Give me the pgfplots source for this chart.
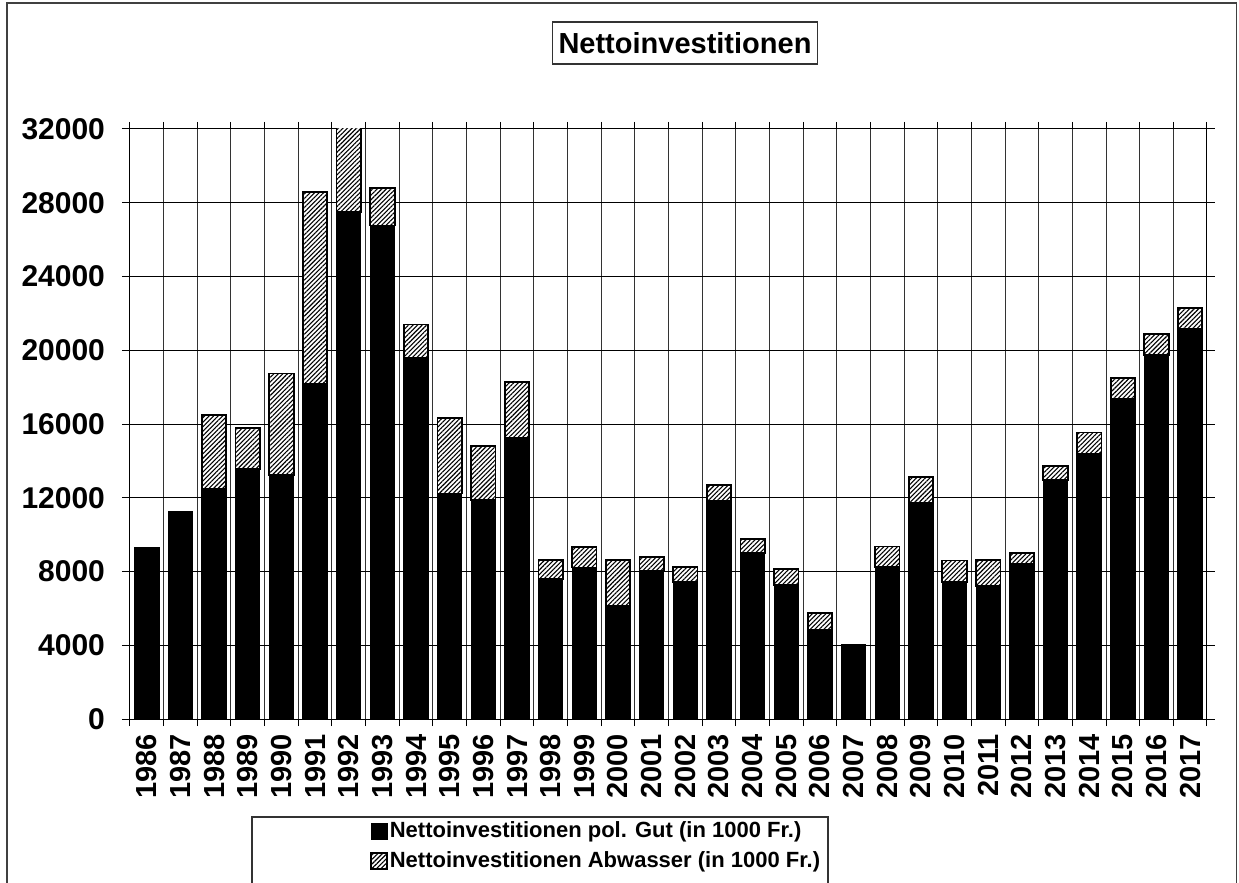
\documentclass[border=0pt]{standalone}
\usepackage{fontspec}
\setmainfont{Liberation Sans}
\setsansfont{Liberation Sans}
\usepackage{pgfplots}
\usepackage{pgfplotstable}
\pgfplotsset{compat=1.18}
\usetikzlibrary{patterns.meta}

% Nettoinvestitionen in 1000 Fr.: politisches Gut und Abwasser
\pgfplotstableread{
year gut abw
1986 9300 0
1987 11250 0
1988 12480 4020
1989 13570 2200
1990 13240 5500
1991 18170 10430
1992 27510 5500
1993 26770 2050
1994 19600 1800
1995 12230 4110
1996 11890 2930
1997 15260 3020
1998 7590 1050
1999 8220 1100
2000 6160 2480
2001 8010 760
2002 7420 840
2003 11850 840
2004 9000 780
2005 7270 870
2006 4850 880
2007 4050 0
2008 8260 1100
2009 11700 1410
2010 7420 1180
2011 7230 1410
2012 8430 590
2013 12960 780
2014 14380 1160
2015 17370 1140
2016 19730 1140
2017 21180 1120
}\invest

\tikzset{
  hatchbar/.style={fill=white, draw=black, line width=0.9pt,
    postaction={pattern={Lines[angle=45,distance=1.6pt,line width=0.55pt]}, pattern color=black}},
  blackbar/.style={fill=black, draw=black, line width=0.5pt},
}

\begin{document}
\begin{tikzpicture}
\path[use as bounding box] (0pt,0pt) rectangle (619.5pt,-441.5pt);
% outer chart frame
\draw[black!75, line width=0.6pt] (3.5pt,-460pt) -- (3.5pt,-1.5pt) -- (618.2pt,-1.5pt) -- (618.2pt,-460pt);

\begin{axis}[
  at={(65pt,-359.5pt)}, anchor=south west,
  scale only axis, width=538.5pt, height=295pt,
  ybar stacked, bar width=0.725,
  xmin=-0.5, xmax=31.5, ymin=0, ymax=32000,
  xtick={0,...,31},
  xticklabels={1986,1987,1988,1989,1990,1991,1992,1993,1994,1995,1996,1997,1998,1999,2000,2001,2002,2003,2004,2005,2006,2007,2008,2009,2010,2011,2012,2013,2014,2015,2016,2017},
  minor xtick={-0.5,0.5,...,31.5},
  major x tick style={draw=none},
  minor x tick style={black, line width=0.5pt},
  xminorgrids=true,
  minor x grid style={black!80, line width=0.5pt},
  ytick={0,4000,...,32000},
  ymajorgrids=true,
  major y grid style={black, line width=0.5pt},
  y tick style={black, line width=0.5pt},
  tick align=outside,
  major tick length=4pt, minor tick length=3.5pt,
  scaled y ticks=false,
  /pgf/number format/.cd, 1000 sep={}, assume math mode=true, /pgfplots/.cd,
  yticklabel style={font=\fontsize{15}{17}\selectfont\bfseries, xshift=-5pt},
  xticklabel style={font=\fontsize{14.5}{17}\selectfont\bfseries, rotate=90, anchor=east},
  axis line style={black, line width=0.5pt},
  legend style={at={(0.2173,-0.2153)}, anchor=west, draw=none, fill=none,
    font=\fontsize{11}{13}\selectfont\bfseries, row sep=3.5pt,
    nodes={inner sep=0.8pt}},
  legend cell align=left,
  legend image code/.code={\draw[#1] (0pt,-4pt) rectangle (8pt,4pt);},
]
\addplot[blackbar] table[x expr=\coordindex, y=gut] {\invest};
\addplot[hatchbar] table[x expr=\coordindex, y=abw] {\invest};
\legend{Nettoinvestitionen pol. Gut (in 1000 Fr.), Nettoinvestitionen Abwasser (in 1000 Fr.)}
\end{axis}

% title
\node[draw=black!80, line width=0.6pt, fill=white, inner xsep=3pt, minimum height=21pt,
  font=\fontsize{14.5}{17}\selectfont\bfseries] at (342.5pt,-21.5pt) {Nettoinvestitionen};
% legend frame
\draw[black!80, line width=0.6pt] (126pt,-460pt) -- (126pt,-408.5pt) -- (414pt,-408.5pt) -- (414pt,-460pt);
\end{tikzpicture}
\end{document}
